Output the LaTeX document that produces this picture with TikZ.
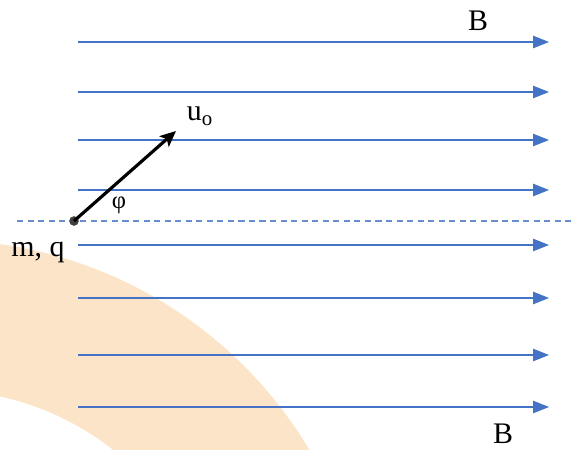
\documentclass[tikz,border=0pt]{standalone}
\usepackage{fontspec}
\setmainfont{Liberation Serif}
\usetikzlibrary{arrows.meta, positioning, calc}
\definecolor{fieldblue}{RGB}{68,114,196}
\definecolor{markorange}{RGB}{251,228,200}
\tikzset{
  fieldline/.style={draw=fieldblue, line width=0.7pt, -{Triangle[length=9pt,width=7pt]}},
  axisline/.style={draw=fieldblue!80, line width=0.6pt, dash pattern=on 3.5pt off 2.5pt},
  velocity/.style={line width=1.8pt, -{Stealth[length=9pt,width=8pt,inset=2pt]}},
  tag/.style={font=\fontsize{17}{19}\selectfont, inner sep=1pt},
  charge/.style={circle, fill=black!75, inner sep=0pt, minimum size=5.5pt}
}

\begin{document}
\begin{tikzpicture}[x=0.02cm, y=-0.02cm]
    \useasboundingbox (0,0) rectangle (572,450);

    % Fondo
    \begin{scope}
        \clip (0,0) rectangle (572,450);
        \fill[markorange, even odd rule] (-60,670) circle[radius=430] (-60,670) circle[radius=280];
    \end{scope}

    % Lineas de campo
    \foreach \n/\y in {1/42, 2/92, 3/140, 4/190, 5/245, 6/298, 7/355, 8/407} {
        \coordinate (l\n) at (78,\y);
        \coordinate (r\n) at (549,\y);
        \draw [fieldline] (l\n) -- (r\n);
    }

    % Eje
    \coordinate (axisA) at (17,221);
    \coordinate (axisB) at (572,221);
    \draw [axisline] (axisA) -- (axisB);

    % Carga y velocidad
    \node (charge) [charge] at (74,221) {};
    \coordinate (tip) at (176,131);
    \draw [velocity] (charge.center) -- (tip);

    % Etiquetas
    \node (u) [tag] at (200,116) {u\textsubscript{o}};
    \node (phi) [tag, font=\fontsize{14}{16}\selectfont] at (119,205) {φ};
    \node (mq) [tag] at (38,252) {m, q};
    \node (Btop) [tag] at (478,21) {B};
    \node (Bbot) [tag] at (503,434) {B};

\end{tikzpicture}
\end{document}
